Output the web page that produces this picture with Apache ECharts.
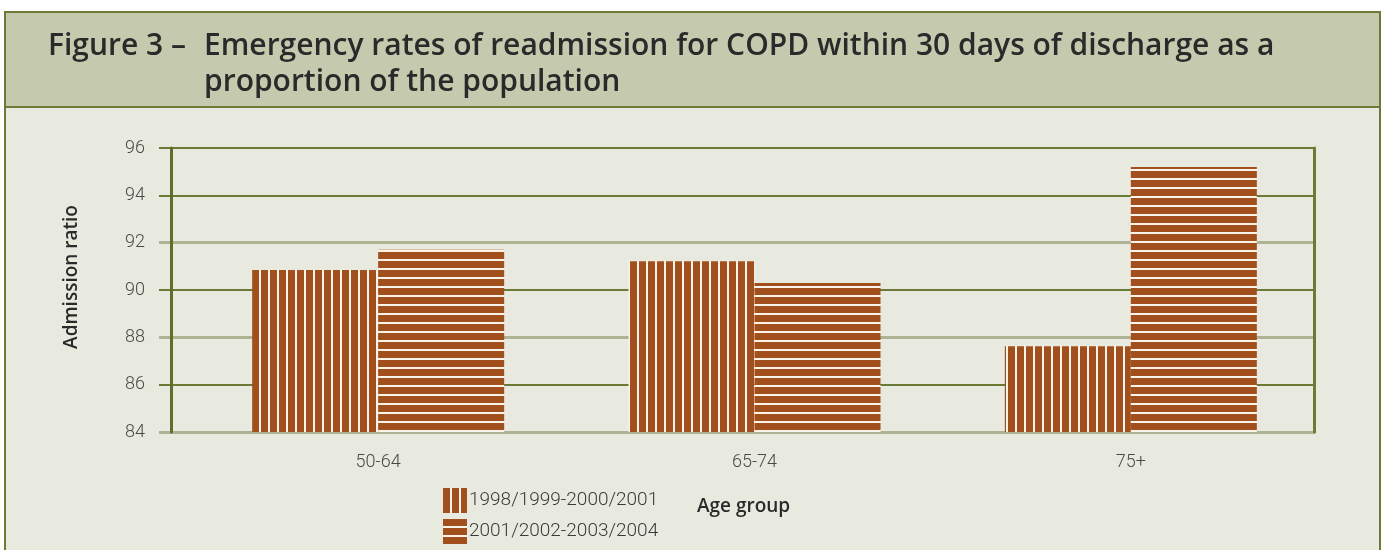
<!DOCTYPE html>
<html><head><meta charset="utf-8">
<script src="https://cdn.jsdelivr.net/npm/echarts@6/dist/echarts.min.js"></script>
<style>html,body{margin:0;padding:0;background:#fff}#c{width:1385px;height:550px}</style>
</head><body><div id="c"></div>
<script>
const categories = ['50-64', '65-74', '75+'];
const seriesNames = ['1998/1999-2000/2001', '2001/2002-2003/2004'];
const series1 = [90.85, 91.22, 87.62];
const series2 = [91.7, 90.3, 95.2];
const yTicks = [84, 86, 88, 90, 92, 94, 96];
const titleLabel = 'Figure 3 \u2013';
const titleLines = ['Emergency rates of readmission for COPD within 30 days of discharge as a', 'proportion of the population'];

const BROWN = '#a14f1c';
function stripe(vertical) {
  const c = document.createElement('canvas');
  c.width = 9; c.height = 9;
  const g = c.getContext('2d');
  g.fillStyle = BROWN; g.fillRect(0, 0, 9, 9);
  g.fillStyle = '#fbf3ea';
  if (vertical) g.fillRect(7, 0, 2, 9); else g.fillRect(0, 7, 9, 2);
  return c;
}
const patV = { image: stripe(true), repeat: 'repeat' };
const patH = { image: stripe(false), repeat: 'repeat' };

const font = 'Roboto, "Noto Sans", sans-serif';
const tfont = '"Open Sans", "Noto Sans", sans-serif';
const LIGHT = '#adb394', DARK = '#6b7a34';
const chart = echarts.init(document.getElementById('c'), null, { renderer: 'canvas' });
const yMin = yTicks[0], yMax = yTicks[yTicks.length - 1];

chart.setOption({
  animation: false,
  backgroundColor: '#ffffff',
  graphic: [
    { type: 'rect', z: -10, shape: { x: 5, y: 12, width: 1375, height: 560 }, style: { fill: '#e9eadf', stroke: DARK, lineWidth: 2 } },
    { type: 'rect', z: -9, shape: { x: 5, y: 12, width: 1375, height: 95 }, style: { fill: '#c5caae', stroke: DARK, lineWidth: 2 } },
    { type: 'text', z: 5, x: 48, y: 46, style: { text: titleLabel, font: '600 30px ' + tfont, fill: '#2a2a2a', textVerticalAlign: 'middle' } },
    { type: 'text', z: 5, x: 204, y: 46, style: { text: titleLines[0], font: '600 30px ' + tfont, fill: '#2a2a2a', textVerticalAlign: 'middle' } },
    { type: 'text', z: 5, x: 204, y: 82, style: { text: titleLines[1], font: '600 30px ' + tfont, fill: '#2a2a2a', textVerticalAlign: 'middle' } },
    { type: 'text', z: 5, x: 697, y: 507, style: { text: 'Age group', font: '600 19px ' + tfont, fill: '#2a2a2a', textVerticalAlign: 'middle' } },
    { type: 'text', z: 5, x: 72, y: 277, rotation: Math.PI / 2, style: { text: 'Admission ratio', font: '600 19px ' + tfont, fill: '#2a2a2a', textAlign: 'center', textVerticalAlign: 'middle' } }
  ],
  grid: [
    { left: 159, top: 148, width: 1156, height: 284 },
    { left: 171, top: 148, width: 1143, height: 284 },
    { left: 190, top: 148, width: 1129, height: 284 }
  ],
  xAxis: [
    { gridIndex: 0, type: 'value', min: 0, max: 1, show: false },
    { gridIndex: 1, type: 'value', min: 0, max: 1, show: false },
    { gridIndex: 2, type: 'category', data: categories,
      axisLine: { show: false }, axisTick: { show: false },
      axisLabel: { margin: 21, color: '#4a4a4a', fontSize: 18, fontWeight: 300, fontFamily: font } }
  ],
  yAxis: [
    { gridIndex: 0, type: 'value', min: yMin, max: yMax, interval: 2,
      axisLine: { show: false }, axisTick: { show: false },
      axisLabel: { margin: 14, color: '#4a4a4a', fontSize: 18, fontWeight: 300, fontFamily: font },
      splitLine: { show: true, lineStyle: { color: [LIGHT, DARK, LIGHT, DARK, LIGHT, DARK, DARK], width: 2 } } },
    { gridIndex: 0, type: 'value', min: yMin, max: yMax, interval: 4,
      axisLine: { show: false }, axisTick: { show: false }, axisLabel: { show: false },
      splitLine: { show: true, lineStyle: { color: [LIGHT, LIGHT, LIGHT, 'rgba(0,0,0,0)'], width: 3 } } },
    { gridIndex: 1, type: 'value', min: yMin, max: yMax, interval: 2, position: 'left',
      axisLine: { show: true, lineStyle: { color: '#5f6e28', width: 3 } },
      axisTick: { show: false }, axisLabel: { show: false }, splitLine: { show: false } },
    { gridIndex: 1, type: 'value', min: yMin, max: yMax, interval: 2, position: 'right',
      axisLine: { show: true, lineStyle: { color: DARK, width: 3 } },
      axisTick: { show: false }, axisLabel: { show: false }, splitLine: { show: false } },
    { gridIndex: 2, type: 'value', min: yMin, max: yMax, interval: 2, show: false }
  ],
  legend: {
    orient: 'vertical', left: 438, top: 483, itemGap: 6, itemWidth: 24, itemHeight: 25,
    icon: 'rect',
    textStyle: { color: '#3a3a3a', fontSize: 19, fontWeight: 300, fontFamily: font, padding: [0, 0, 0, -3] },
    data: seriesNames
  },
  series: [
    { name: seriesNames[0], type: 'bar', xAxisIndex: 2, yAxisIndex: 4, data: series1,
      barWidth: 126, barGap: '0%', itemStyle: { color: patV } },
    { name: seriesNames[1], type: 'bar', xAxisIndex: 2, yAxisIndex: 4, data: series2,
      barWidth: 126, barGap: '0%', itemStyle: { color: patH } }
  ]
});
</script></body></html>
